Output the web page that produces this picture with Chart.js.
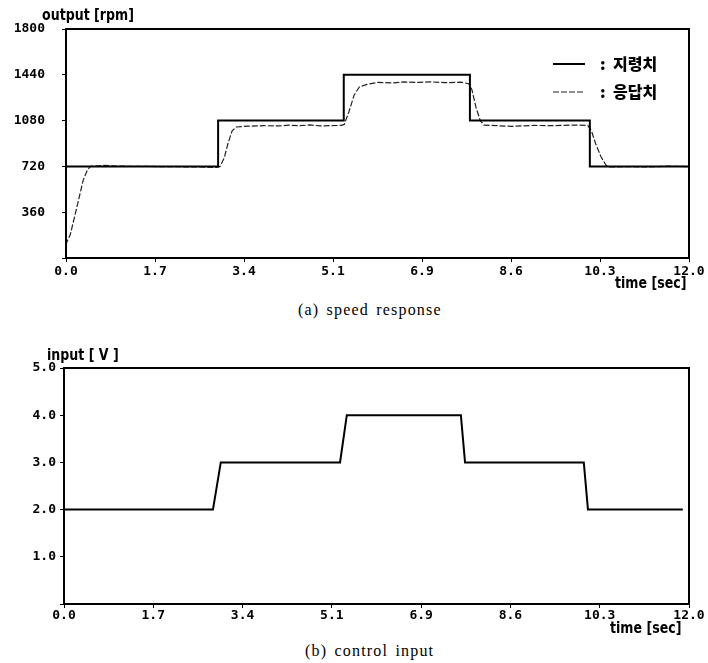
<!DOCTYPE html>
<html>
<head>
<meta charset="utf-8">
<script src="https://cdn.jsdelivr.net/npm/chart.js@4"></script>
<style>
  body { margin: 0; background: #fff; width: 708px; height: 663px; position: relative; overflow: hidden; }
  .box { position: absolute; left: 0; width: 708px; height: 300px; }
  .lbl { position: absolute; font-family: "DejaVu Sans", sans-serif; font-weight: bold; font-size: 15px; color: #000; white-space: nowrap; line-height: 1; transform: scaleX(0.84); transform-origin: left top; }
  .cap { position: absolute; font-family: "Liberation Serif", serif; font-size: 16px; color: #000; white-space: nowrap; line-height: 1; letter-spacing: 1.2px; word-spacing: 2px; }
</style>
</head>
<body>
<div class="box" style="top:0"><canvas id="speedChart"></canvas></div>
<div class="box" style="top:330px"><canvas id="inputChart"></canvas></div>

<div class="lbl" style="left:42px;top:8px">output [rpm]</div>
<div class="lbl" style="left:615px;top:276px">time [sec]</div>
<div class="cap" style="left:298px;top:302px">(a) speed response</div>

<div class="lbl" style="left:47px;top:348px">input [ V ]</div>
<div class="lbl" style="left:610px;top:621px">time [sec]</div>
<div class="cap" style="left:305px;top:643px">(b) control input</div>

<script>
// x axis ticks (sec), 7 equal divisions of 0..12
var xTickLabels = ['0.0', '1.7', '3.4', '5.1', '6.9', '8.6', '10.3', '12.0'];
var speedTickLabels = ['', '360', '720', '1080', '1440', '1800'];
var inputTickLabels = ['', '1.0', '2.0', '3.0', '4.0', '5.0'];

// speed reference (지령치)
var refTime = [0, 2.93, 2.93, 5.35, 5.35, 7.78, 7.78, 10.09, 10.09, 12.0];
var refSpeed = [720, 720, 1080, 1080, 1440, 1440, 1080, 1080, 720, 720];

// speed response (응답치)
var respTime = [0, 0.02, 0.08, 0.21, 0.33, 0.41, 0.47, 0.7, 1.0, 1.5, 2.0, 2.5, 2.9,
  2.97, 3.05, 3.12, 3.2, 3.28, 3.5, 3.8, 4.1, 4.3, 4.5, 4.7, 4.9, 5.1, 5.3,
  5.36, 5.45, 5.55, 5.65, 5.8, 6.0, 6.3, 6.5, 6.8, 7.0, 7.3, 7.6, 7.76,
  7.82, 7.9, 7.98, 8.05, 8.3, 8.6, 9.0, 9.4, 9.8, 10.05,
  10.12, 10.2, 10.3, 10.4, 10.45, 10.8, 11.2, 11.6, 12.0];
var respSpeed = [100, 130, 180, 400, 610, 690, 720, 728, 722, 720, 718, 716, 712,
  720, 790, 900, 1000, 1030, 1036, 1040, 1038, 1044, 1040, 1046, 1038, 1040, 1042,
  1050, 1150, 1280, 1345, 1365, 1380, 1376, 1384, 1380, 1385, 1378, 1382, 1370,
  1320, 1180, 1080, 1045, 1040, 1035, 1042, 1040, 1045, 1042,
  1000, 900, 800, 730, 715, 718, 716, 722, 718];

// control input (V)
var inTime = [0, 2.86, 3.01, 5.3, 5.43, 7.62, 7.70, 9.98, 10.06, 11.88];
var inVolt = [2, 2, 3, 3, 4, 4, 3, 3, 2, 2];

function pts(xs, ys) {
  return xs.map(function(x, i) { return { x: x, y: ys[i] }; });
}

var tickFont = { family: 'DejaVu Sans Mono', weight: 'bold', size: 13 };

var frame = {
  id: 'frame',
  afterDraw: function(chart) {
    var a = chart.chartArea, ctx = chart.ctx;
    ctx.save();
    ctx.strokeStyle = '#000';
    ctx.lineWidth = 2;
    ctx.strokeRect(a.left, a.top, a.right - a.left, a.bottom - a.top);
    ctx.restore();
  }
};

var lineLegend = {
  id: 'lineLegend',
  afterDraw: function(chart) {
    var ctx = chart.ctx;
    ctx.save();
    chart.data.datasets.forEach(function(ds, i) {
      var y = 64 + i * 28;
      ctx.strokeStyle = ds.borderColor;
      ctx.lineWidth = ds.borderWidth;
      ctx.setLineDash(ds.borderDash || []);
      ctx.beginPath();
      ctx.moveTo(553, y);
      ctx.lineTo(585, y);
      ctx.stroke();
      ctx.setLineDash([]);
      ctx.fillStyle = '#000';
      ctx.font = '900 16px "Noto Sans CJK KR"';
      ctx.textBaseline = 'middle';
      ctx.fillText(':  ' + ds.label, 600, y);
    });
    ctx.restore();
  }
};

function xScale(h, pad) {
  return {
    type: 'linear', min: 0, max: 12,
    afterFit: function(s) { s.height = h; },
    grid: { drawOnChartArea: false, color: '#000', tickLength: 4 },
    border: { color: '#000', width: 2 },
    ticks: {
      stepSize: 12 / 7, color: '#000', font: tickFont, padding: pad, maxRotation: 0,
      callback: function(v, i) { return xTickLabels[i]; }
    }
  };
}

function yScale(w, max, step, labels, pad) {
  return {
    min: 0, max: max,
    afterFit: function(s) { s.width = w; },
    grid: { drawOnChartArea: false, color: '#000', tickLength: 4 },
    border: { color: '#000', width: 2 },
    ticks: {
      stepSize: step, color: '#000', font: tickFont, padding: pad,
      callback: function(v, i) { return labels[i]; }
    }
  };
}

new Chart(document.getElementById('speedChart'), {
  type: 'line',
  data: {
    datasets: [{
      label: '지령치',
      data: pts(refTime, refSpeed),
      borderColor: '#000', borderWidth: 2, pointRadius: 0, tension: 0
    }, {
      label: '응답치',
      data: pts(respTime, respSpeed),
      borderColor: '#222', borderWidth: 1.2, borderDash: [6, 2], pointRadius: 0, tension: 0
    }]
  },
  options: {
    responsive: true, maintainAspectRatio: false, animation: false,
    layout: { padding: { top: 29, right: 19, left: 0, bottom: 0 } },
    plugins: { legend: { display: false }, tooltip: { enabled: false } },
    scales: {
      x: xScale(42, 2),
      y: yScale(66, 1800, 360, speedTickLabels, 17)
    }
  },
  plugins: [frame, lineLegend]
});

new Chart(document.getElementById('inputChart'), {
  type: 'line',
  data: {
    datasets: [{
      label: 'input',
      data: pts(inTime, inVolt),
      borderColor: '#000', borderWidth: 2, pointRadius: 0, tension: 0
    }]
  },
  options: {
    responsive: true, maintainAspectRatio: false, animation: false,
    layout: { padding: { top: 38, right: 19, left: 0, bottom: 0 } },
    plugins: { legend: { display: false }, tooltip: { enabled: false } },
    scales: {
      x: xScale(26, 0),
      y: yScale(64, 5, 1, inputTickLabels, 4)
    }
  },
  plugins: [frame]
});
</script>
</body>
</html>
